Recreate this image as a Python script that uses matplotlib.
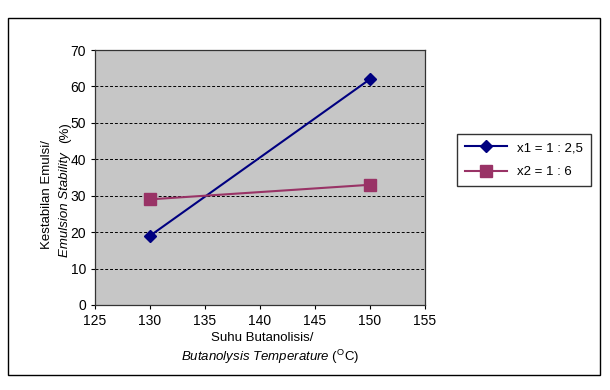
import matplotlib
matplotlib.use("Agg")
import matplotlib.pyplot as plt
from matplotlib.patches import Rectangle

plt.rcParams['font.family'] = ['Liberation Sans', 'DejaVu Sans']
plt.rcParams['mathtext.fontset'] = 'custom'
plt.rcParams['mathtext.rm'] = 'Liberation Sans'
plt.rcParams['mathtext.it'] = 'Liberation Sans:italic'

# data
suhu = [130, 150]
x1 = [19, 62]
x2 = [29, 33]
labels = ["x1 = 1 : 2,5", "x2 = 1 : 6"]
x_ticks = [125, 130, 135, 140, 145, 150, 155]
y_ticks = [0, 10, 20, 30, 40, 50, 60, 70]

fig = plt.figure(figsize=(6.1, 3.9), dpi=100)
fig.patch.set_facecolor('white')

# chart border
fig.patches.append(Rectangle((8/610, 15/390), 592/610, 357/390, transform=fig.transFigure,
                             fill=False, edgecolor='black', linewidth=1.0))

ax = fig.add_axes([95/610, 1 - 305/390, 330/610, 255/390])
ax.set_facecolor('#c6c6c6')

l1, = ax.plot(suhu, x1, color='#000080', marker='D', markersize=6, linewidth=1.5)
l2, = ax.plot(suhu, x2, color='#993366', marker='s', markersize=8, linewidth=1.5)

ax.set_xlim(125, 155)
ax.set_ylim(0, 70)
ax.set_xticks(x_ticks)
ax.set_yticks(y_ticks)
ax.tick_params(labelsize=10, length=3, direction='out')
ax.yaxis.grid(True, color='black', linestyle=(0, (3, 2)), linewidth=0.7)
ax.set_axisbelow(True)
for s in ax.spines.values():
    s.set_color('#333333')
    s.set_linewidth(0.9)

# axis titles
fig.text(47/610, 1 - 195/390, "Kestabilan Emulsi/", rotation=90, ha='center', va='center', fontsize=9.5)
fig.text(65/610, 1 - 205/390, "Emulsion Stability", rotation=90, ha='center', va='center',
         fontsize=9.5, style='italic')
fig.text(65/610, 1 - 133/390, "(%)", rotation=90, ha='center', va='center', fontsize=9.5)

fig.text(262/610, 1 - 338/390, "Suhu Butanolisis/", ha='center', va='center', fontsize=9.5)
fig.text(270/610, 1 - 357/390, r"$\mathit{Butanolysis\ Temperature}$ ($^{\mathrm{O}}$C)",
         ha='center', va='center', fontsize=9.5)

leg = fig.legend([l1, l2], labels, loc='center left', bbox_to_anchor=(450/610, 1 - 160/390),
                 fontsize=9.5, frameon=True, fancybox=False, edgecolor='black',
                 handlelength=3.2, borderpad=0.6, labelspacing=0.9)
leg.get_frame().set_linewidth(1.0)

fig.savefig("out.png", dpi=100)
